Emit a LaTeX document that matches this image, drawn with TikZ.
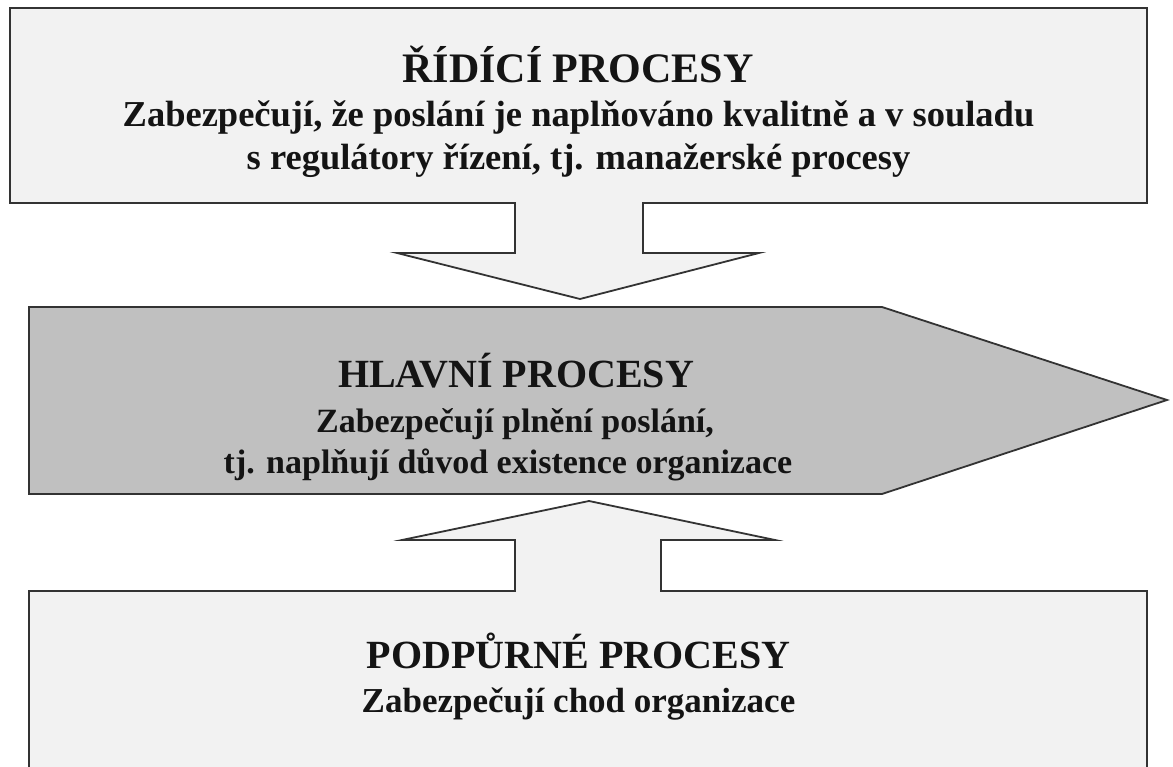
\documentclass[tikz,border=0pt]{standalone}
\usepackage{fontspec}
\setmainfont{Liberation Serif}
\definecolor{lightfill}{HTML}{F2F2F2}
\definecolor{midfill}{HTML}{C0C0C0}
\definecolor{edge}{HTML}{333333}
\definecolor{ink}{HTML}{141414}
\begin{document}
\begin{tikzpicture}[x=1pt,y=-1pt,
  outline/.style={draw=edge,line width=1.8pt,line join=miter},
  textline/.style={text=ink,anchor=base,inner sep=0pt},
  headline/.style={textline,font=\fontsize{40}{44}\selectfont\bfseries},
  bodyline/.style={textline,font=\fontsize{35}{43}\selectfont\bfseries},
  tophead/.style={textline,font=\fontsize{42}{46}\selectfont\bfseries},
  topbody/.style={textline,font=\fontsize{36.5}{43}\selectfont\bfseries},
  midbody/.style={textline,font=\fontsize{34}{41}\selectfont\bfseries}]
\useasboundingbox (0,0) rectangle (1173,767);
\clip (0,0) rectangle (1173,767);
\fill[white] (0,0) rectangle (1173,767);

% control processes box, merged with the downward arrow
\filldraw[outline,fill=lightfill]
  (10,8) -- (1147,8) -- (1147,203) -- (643,203) -- (643,253) -- (759,253)
  -- (580,299) -- (397,253) -- (515,253) -- (515,203) -- (10,203) -- cycle;

% main processes: pentagon arrow pointing right
\filldraw[outline,fill=midfill]
  (29,307) -- (882,307) -- (1167,400) -- (882,494) -- (29,494) -- cycle;

% support processes box, merged with the upward arrow (open at the bottom)
\filldraw[outline,fill=lightfill]
  (29,790) -- (29,591) -- (515,591) -- (515,540) -- (402,540) -- (589,501)
  -- (775,540) -- (661,540) -- (661,591) -- (1147,591) -- (1147,790);

% texts
\node[tophead] (rtitle) at (578,83) {ŘÍDÍCÍ PROCESY};
\node[topbody] (rline1) at (578.5,127) {Zabezpečují, že poslání je naplňováno kvalitně a v souladu};
\node[topbody] (rline2) at (578.5,170) {s regulátory řízení, tj. manažerské procesy};

\node[headline] (htitle) at (516,387) {HLAVNÍ PROCESY};
\node[midbody] (hline1) at (515,432) {Zabezpečují plnění poslání,};
\node[midbody] (hline2) at (508,473) {tj. naplňují důvod existence organizace};

\node[headline] (ptitle) at (578.5,668) {PODPŮRNÉ PROCESY};
\node[bodyline] (pline1) at (578.5,712) {Zabezpečují chod organizace};
\end{tikzpicture}
\end{document}
